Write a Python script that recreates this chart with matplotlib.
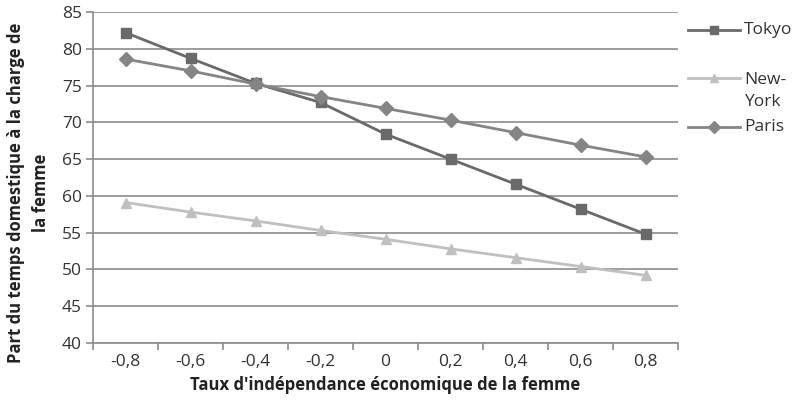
import matplotlib
matplotlib.use("Agg")
import matplotlib.pyplot as plt
from matplotlib.lines import Line2D

plt.rcParams['font.family'] = ['Open Sans', 'DejaVu Sans']

x_labels = ["-0,8", "-0,6", "-0,4", "-0,2", "0", "0,2", "0,4", "0,6", "0,8"]
tokyo = [82.2, 78.7, 75.3, 72.7, 68.4, 65.0, 61.6, 58.2, 54.8]
new_york = [59.1, 57.8, 56.6, 55.3, 54.1, 52.8, 51.6, 50.4, 49.2]
paris = [78.6, 77.0, 75.2, 73.5, 71.9, 70.3, 68.6, 66.9, 65.3]
y_ticks = [40, 45, 50, 55, 60, 65, 70, 75, 80, 85]

series = [
    ("Tokyo", tokyo, "#6a6a6a", "s", 7),
    ("New-\nYork", new_york, "#c0c0c0", "^", 7),
    ("Paris", paris, "#858585", "D", 7),
]

W, H = 799, 409
fig = plt.figure(figsize=(W / 100, H / 100), dpi=100)
ax = fig.add_axes([93 / W, 1 - 343 / H, (678 - 93) / W, (343 - 12) / H])

xs = list(range(len(x_labels)))
for name, vals, color, marker, ms in series:
    ax.plot(xs, vals, color=color, marker=marker, markersize=ms, lw=2, zorder=3)

grid_c = "#8c8c8c"
fs = 12.5
ax.set_ylim(40, 85)
ax.set_yticks(y_ticks)
ax.yaxis.grid(True, color=grid_c, lw=1.2)
ax.set_axisbelow(True)
ax.set_xlim(-0.5, len(x_labels) - 0.5)
ax.set_xticks([i - 0.5 for i in range(len(x_labels) + 1)])
ax.set_xticklabels([])
ax.set_xticks(xs, minor=True)
ax.set_xticklabels(x_labels, minor=True)
ax.tick_params(axis="x", which="minor", length=0, pad=8, labelsize=fs, colors="#333333")
ax.tick_params(axis="x", which="major", length=5, color=grid_c, width=1.2)
ax.tick_params(axis="y", length=5, color=grid_c, width=1.2, labelsize=fs, labelcolor="#333333", pad=3)
for s in ["top", "right"]:
    ax.spines[s].set_visible(False)
for s in ["left", "bottom"]:
    ax.spines[s].set_color(grid_c)
    ax.spines[s].set_linewidth(1.2)

ax.set_xlabel("Taux d'indépendance économique de la femme", fontsize=12,
              fontweight="bold", color="#222222", labelpad=4)
ax.set_ylabel("Part du temps domestique à la charge de\nla femme", fontsize=12,
              fontweight="bold", color="#222222", linespacing=1.5)
ax.yaxis.set_label_coords(-43 / 585, 0.455)

# legend drawn to the right, Excel style
leg_y = [30, 78, 127]
for (name, vals, color, marker, ms), ly in zip(series, leg_y):
    yf = 1 - ly / H
    fig.add_artist(Line2D([688 / W, 740 / W], [yf, yf], color=color, lw=2))
    fig.add_artist(Line2D([714 / W], [yf], color=color, marker=marker, markersize=6))
    multi = "\n" in name
    fig.text(744 / W, yf - (12.5 / H if multi else 0), name, fontsize=fs, color="#333333",
             va="center", linespacing=1.5)

fig.savefig("out.png", dpi=100)
